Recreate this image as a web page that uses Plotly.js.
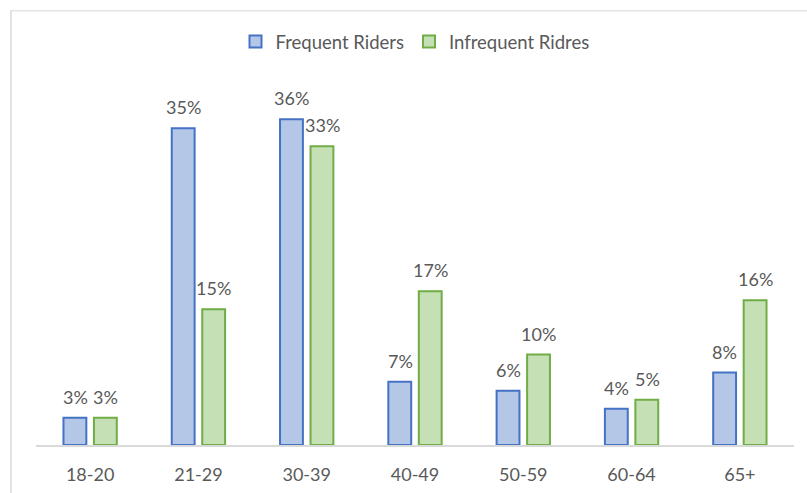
<!DOCTYPE html>
<html>
<head>
<meta charset="utf-8">
<script src="https://cdn.plot.ly/plotly-3.0.1.min.js"></script>
<style>
  html, body { margin: 0; padding: 0; background: #ffffff; }
  #chart { width: 807px; height: 493px; }
</style>
</head>
<body>
<div id="chart"></div>
<script>
// Rider age groups and share of riders (%) in each
const ageGroups = ['18-20', '21-29', '30-39', '40-49', '50-59', '60-64', '65+'];
const frequentRiders = [3, 35, 36, 7, 6, 4, 8];
const infrequentRiders = [3, 15, 33, 17, 10, 5, 16];
const seriesNames = ['Frequent Riders', 'Infrequent Ridres'];

const textColor = '#595959';
const fontFamily = 'Lato, "Open Sans", sans-serif';

const traces = [
  {
    type: 'bar',
    name: seriesNames[0],
    x: ageGroups,
    y: frequentRiders,
    marker: { color: '#B4C7E7', line: { color: '#4472C4', width: 2 } },
    hoverinfo: 'skip'
  },
  {
    type: 'bar',
    name: seriesNames[1],
    x: ageGroups,
    y: infrequentRiders,
    marker: { color: '#C5E0B4', line: { color: '#70AD47', width: 2 } },
    hoverinfo: 'skip'
  }
];

// Value labels placed above each bar
const annotations = [];
[frequentRiders, infrequentRiders].forEach((series, s) => {
  series.forEach((v, i) => {
    annotations.push({
      x: ageGroups[i], y: v, xref: 'x', yref: 'y',
      xshift: s === 0 ? -15 : 15.5, yshift: 8,
      yanchor: 'bottom', showarrow: false,
      text: v + '%',
      font: { family: fontFamily, size: 18, color: textColor }
    });
  });
});

// Light frame along the top and left edges of the chart area
const plotL = 36, plotR = 794, plotT = 83, plotB = 445;
const pw = plotR - plotL, ph = plotB - plotT;
const px = X => (X - plotL) / pw;
const py = Y => (plotB - Y) / ph;
const shapes = [
  { type: 'line', xref: 'paper', yref: 'paper', x0: px(10.5), x1: px(807), y0: py(10.8), y1: py(10.8),
    line: { color: '#E3E3E3', width: 1.5 } },
  { type: 'line', xref: 'paper', yref: 'paper', x0: px(11), x1: px(11), y0: py(10), y1: py(493),
    line: { color: '#E3E3E3', width: 2 } }
];

const layout = {
  width: 807, height: 493,
  margin: { l: plotL, r: 807 - plotR, t: plotT, b: 493 - plotB, pad: 0 },
  paper_bgcolor: '#ffffff', plot_bgcolor: '#ffffff',
  font: { family: fontFamily, color: textColor, size: 18 },
  barmode: 'group', bargap: 0.437, bargroupgap: 0.25,
  showlegend: true,
  legend: {
    orientation: 'h', x: 0.5, xanchor: 'center', y: py(42), yanchor: 'middle',
    font: { family: fontFamily, size: 18.5, color: textColor },
    itemclick: false, itemdoubleclick: false
  },
  xaxis: {
    type: 'category', showgrid: false, zeroline: false,
    showline: true, linecolor: '#D9D9D9', linewidth: 1.5,
    ticks: '', ticklabelstandoff: 13,
    tickfont: { family: fontFamily, size: 18, color: textColor },
    fixedrange: true
  },
  yaxis: {
    range: [0, 40], showgrid: false, zeroline: false, showline: false,
    showticklabels: false, ticks: '', fixedrange: true
  },
  annotations: annotations,
  shapes: shapes
};

Plotly.newPlot('chart', traces, layout, { displayModeBar: false, staticPlot: true });
</script>
</body>
</html>
